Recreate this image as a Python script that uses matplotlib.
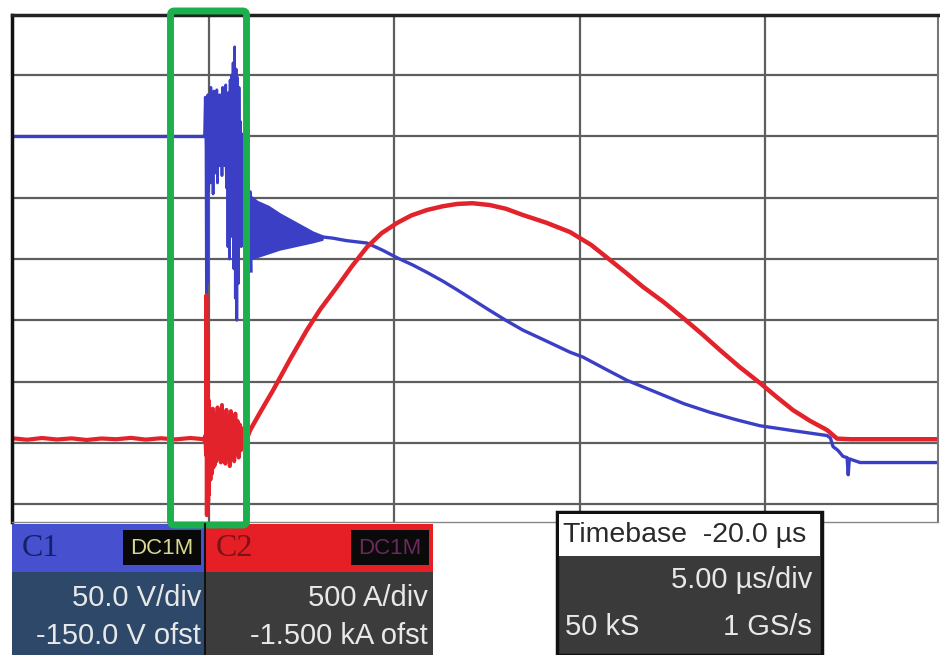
import matplotlib
matplotlib.use('Agg')
import matplotlib.pyplot as plt
from matplotlib.patches import Rectangle, FancyBboxPatch
import numpy as np

# scope settings shown on screen
volt_per_div = 50.0
volt_ofst = -150.0
amp_per_div = 500.0
amp_ofst = -1500.0
us_per_div = 5.0

# C1 - voltage (V) vs time (us)
c1_pre_t = [-5.31, -0.16]
c1_pre_v = [250, 250]
c1_burst_t = [-0.16, -0.12, -0.10, -0.08, -0.07, -0.06, -0.04, -0.03, -0.01,
              0.01, 0.03, 0.05, 0.07, 0.09, 0.11, 0.13, 0.15, 0.17, 0.19,
              0.21, 0.23, 0.25, 0.27, 0.29, 0.31, 0.33, 0.35, 0.37, 0.39,
              0.41, 0.43, 0.45, 0.47, 0.49, 0.51, 0.53, 0.55, 0.57, 0.59,
              0.61, 0.63, 0.65, 0.67, 0.69, 0.71, 0.73, 0.75, 0.77, 0.79,
              0.81, 0.83, 0.85, 0.87, 0.89, 0.91, 0.93, 0.95, 0.97, 0.99,
              1.01, 1.03, 1.05, 1.08, 1.11, 1.14]
c1_burst_v = [250, 251, 282, 240, 121, 278, 130, 284, 205,
              276, 212, 290, 222, 281, 203, 287, 228, 276, 220,
              288, 212, 279, 226, 284, 236, 278, 218, 290, 230,
              282, 226, 292, 208, 280, 160, 286, 150, 296, 198,
              300, 168, 310, 142, 323, 118, 305, 100, 298, 130,
              290, 188, 262, 160, 252, 174, 242, 165, 232, 180,
              224, 170, 216, 176, 205, 140]
# ringing band after the burst
c1_ring_t = [1.05, 1.3, 1.6, 1.9, 2.2, 2.5, 2.8, 3.05]
c1_ring_hi = [203, 197, 193, 187, 182, 177, 172, 169]
c1_ring_lo = [150, 152, 155, 158, 160, 162, 164, 166]
c1_decay_t = [3.05, 3.34, 3.7, 4.26, 4.69, 5.07, 5.5, 5.88, 6.3, 6.68, 7.1,
              7.57, 8.0, 8.46, 9.1, 9.73, 10.08, 10.7, 11.27, 12.16, 12.8,
              13.5, 14.2, 14.85, 15.3, 15.74, 16.2, 16.66, 16.75, 16.82,
              16.95, 17.09, 17.2, 17.23, 17.26, 17.55, 18.2, 19.0, 19.65]
c1_decay_v = [168, 167, 165, 163, 157, 151, 145, 139, 132, 125, 117,
              108, 100, 92, 83, 74, 70, 60, 51, 40, 32,
              25, 19, 14, 12, 10, 8, 6, 4, -3,
              -6, -11, -12, -26, -13, -16, -16, -16, -16]

# C2 - current (A) vs time (us)
c2_pre_t = [-5.31, -4.9, -4.5, -4.1, -3.7, -3.3, -2.9, -2.5, -2.1, -1.7,
            -1.3, -0.9, -0.5, -0.16]
c2_pre_i = [38, 26, 40, 28, 37, 24, 36, 30, 41, 27, 38, 29, 40, 31]
c2_burst_t = [-0.16, -0.12, -0.10, -0.08, -0.07, -0.06, -0.05, -0.04, -0.03,
              -0.02, -0.01, 0.00, 0.02, 0.04, 0.06, 0.08, 0.10, 0.12, 0.14,
              0.16, 0.18, 0.20, 0.23, 0.26, 0.29, 0.32, 0.35, 0.38, 0.41,
              0.44, 0.47, 0.50, 0.53, 0.56, 0.59, 0.62, 0.65, 0.68, 0.71,
              0.74, 0.77, 0.80, 0.83, 0.86, 0.89, 0.92, 0.95, 0.98]
c2_burst_i = [30, 20, 60, -100, 1206, -590, 900, -560, 600,
              -480, 350, -420, 250, -300, 200, -250, 280, -200, 240,
              -180, 220, -150, 290, -120, 230, -160, 310, -100, 250,
              -170, 270, -130, 220, -190, 260, -110, 200, -150, 240,
              -90, 180, -120, 150, -60, 120, -30, 80, 10]
# dense core of the current burst
c2_blob_t = [-0.02, 0.15, 0.3, 0.45, 0.6, 0.75, 0.9, 1.0]
c2_blob_hi = [150, 170, 160, 170, 150, 130, 90, 40]
c2_blob_lo = [-120, -110, -100, -110, -90, -70, -30, 0]
c2_pulse_t = [0.98, 1.0, 1.11, 1.4, 1.73, 2.2, 2.64, 3.0, 3.45, 3.85, 4.26,
              4.65, 5.07, 5.45, 5.88, 6.3, 6.69, 7.1, 7.57, 8.0, 8.46, 9.1,
              9.73, 10.3, 10.81, 11.25, 11.7, 12.25, 12.78, 13.3, 13.77,
              14.3, 14.85, 15.3, 15.74, 16.2, 16.66, 16.93, 17.3, 18.0,
              19.0, 19.65]
c2_pulse_i = [10, 20, 105, 260, 431, 690, 921, 1090, 1272, 1440, 1598,
              1710, 1794, 1855, 1900, 1930, 1949, 1955, 1940, 1910, 1859, 1795,
              1720, 1615, 1492, 1385, 1272, 1150, 1019, 885, 758,
              620, 489, 375, 268, 180, 105, 35, 30, 30,
              30, 30]


def to_div(vals, per_div, ofst):
    return (np.asarray(vals, dtype=float) + ofst) / per_div


blue = '#3a3fc6'
red = '#e3232b'
sans = 'Liberation Sans'

fig = plt.figure(figsize=(9.4, 6.55), dpi=100)
fig.patch.set_facecolor('white')

ax = fig.add_axes([12 / 940, 1 - 522 / 655, 926 / 940, 507 / 655])
ax.set_xlim(-5.31, 19.65)
ax.set_ylim(-4.29, 3.98)
ax.set_xticks(np.arange(0, 20, us_per_div))
ax.set_yticks(np.arange(-4, 4))
ax.tick_params(length=0, labelbottom=False, labelleft=False)
ax.grid(True, color='#5e5e5e', lw=1.6)
ax.set_axisbelow(True)
ax.spines['left'].set_color('#111111')
ax.spines['left'].set_linewidth(2.5)
ax.spines['top'].set_color('#222222')
ax.spines['top'].set_linewidth(2.5)
ax.spines['right'].set_color('#777777')
ax.spines['right'].set_linewidth(1.5)
ax.spines['bottom'].set_color('#888888')
ax.spines['bottom'].set_linewidth(1.0)

# channel 1 (voltage)
ax.plot(c1_pre_t, to_div(c1_pre_v, volt_per_div, volt_ofst), color=blue, lw=2.4)
ax.plot(c1_burst_t, to_div(c1_burst_v, volt_per_div, volt_ofst), color=blue, lw=2.0)
ax.fill_between(c1_ring_t, to_div(c1_ring_lo, volt_per_div, volt_ofst),
                to_div(c1_ring_hi, volt_per_div, volt_ofst), color=blue, lw=1.5,
                edgecolor=blue)
ax.plot(c1_decay_t, to_div(c1_decay_v, volt_per_div, volt_ofst), color=blue, lw=2.4)

# channel 2 (current)
ax.plot(c2_pre_t, to_div(c2_pre_i, amp_per_div, amp_ofst), color=red, lw=3.0)
ax.fill_between(c2_blob_t, to_div(c2_blob_lo, amp_per_div, amp_ofst),
                to_div(c2_blob_hi, amp_per_div, amp_ofst), color=red, lw=1.5,
                edgecolor=red)
ax.plot(c2_burst_t, to_div(c2_burst_i, amp_per_div, amp_ofst), color=red, lw=2.8)
ax.plot(c2_pulse_t, to_div(c2_pulse_i, amp_per_div, amp_ofst), color=red, lw=3.2)

# overlay in pixel coords for the info boxes
ov = fig.add_axes([0, 0, 1, 1])
ov.set_xlim(0, 940)
ov.set_ylim(655, 0)
ov.axis('off')


def box(x, y, w, h, fc, ec='none', lw=0):
    ov.add_patch(Rectangle((x, y), w, h, facecolor=fc, edgecolor=ec, lw=lw))


txt = dict(color='#e8e8e8', fontsize=21, family=sans, ha='right', va='center')

# C1
box(12, 524, 193, 48, '#4751d0')
box(12, 572, 193, 83, '#2d4868')
box(123, 530, 78, 35, '#080808')
ov.text(22, 549, 'C1', color='#16206a', fontsize=23, family='Liberation Serif',
        va='center')
ov.text(162, 548, 'DC1M', color='#d8d890', fontsize=16, family=sans,
        ha='center', va='center')
ov.text(201, 598, '50.0 V/div', **txt)
ov.text(201, 636, '-150.0 V ofst', **txt)

# C2
box(205, 524, 228, 48, '#e61e26')
box(205, 572, 228, 83, '#3c3c3c')
box(351, 530, 78, 35, '#0a0a0a')
ov.plot([205, 205], [524, 655], color='#111111', lw=1.5)
ov.text(216, 549, 'C2', color='#7a1216', fontsize=23, family='Liberation Serif',
        va='center')
ov.text(390, 548, 'DC1M', color='#6a2a5a', fontsize=16, family=sans,
        ha='center', va='center')
ov.text(428, 598, '500 A/div', **txt)
ov.text(428, 636, '-1.500 kA ofst', **txt)

# timebase
box(557, 512, 265, 143, '#3a3a3a', ec='#111111', lw=2.5)
box(559, 514, 261, 42, 'white')
ov.text(563, 535, 'Timebase  -20.0 µs', color='#2a2a2a', fontsize=20.5, family=sans,
        ha='left', va='center')
ov.text(812, 580, '5.00 µs/div', **txt)
ov.text(812, 627, '1 GS/s', **txt)
ov.text(565, 627, '50 kS', **{**txt, 'ha': 'left'})

# green highlight around the switching event
ov.add_patch(FancyBboxPatch((170.5, 11), 76, 514,
                            boxstyle='round,pad=0,rounding_size=4',
                            facecolor='none', edgecolor='#1bb04d', lw=5.0))

fig.savefig('out.png', dpi=100, facecolor='white')
